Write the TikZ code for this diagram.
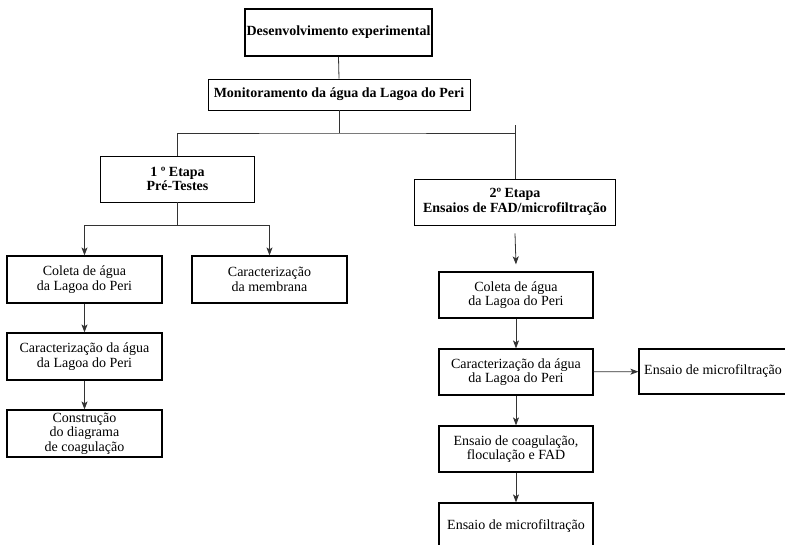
\documentclass[tikz,border=0pt]{standalone}
\usepackage{fontspec}
\setmainfont{Liberation Serif}
\usetikzlibrary{arrows.meta}
\begin{document}
\begin{tikzpicture}[>={Stealth[length=8pt,width=6pt,inset=2pt]},x=1pt,y=-1pt,
	caixa/.style={draw,line width=1.2pt,align=center,inner sep=0pt,minimum width=155pt,minimum height=46pt,font=\fontsize{14}{14.7}\selectfont},
	etapa/.style={caixa,line width=0.8pt,font=\bfseries\fontsize{14}{14.7}\selectfont},
	liga/.style={line width=0.8pt,black!80}]
	\useasboundingbox (0,0) rectangle (785,545);
	\clip (0,0) rectangle (785,545);
	\node[etapa,line width=1.8pt,minimum width=187pt,minimum height=47pt] (dev) at (338.5,32.5) {Desenvolvimento experimental};
	\node[etapa,minimum width=262pt,minimum height=31pt] (mon) at (339,94.5) {Monitoramento da água da Lagoa do Peri};
	\node[etapa,minimum width=154pt] (e1) at (177.5,179) {1 º Etapa\\Pré-Testes};
	\node[etapa,minimum width=201pt] (e2) at (515,202) {2º Etapa\\Ensaios de FAD/microfiltração};
	% 1a etapa
	\node[caixa,minimum height=47pt] (c1) at (84.5,279.5) {Coleta de água\\da Lagoa do Peri};
	\node[caixa,minimum height=47pt] (mem) at (269.5,279.5) {Caracterização\\da membrana};
	\node[caixa,minimum height=47pt] (k1) at (84.5,356.5) {Caracterização da água\\da Lagoa do Peri};
	\node[caixa,minimum height=47pt] (d1) at (84.5,433.5) {Construção\\do diagrama\\de coagulação};
	% 2a etapa
	\node[caixa,minimum width=154pt] (c2) at (516,295) {Coleta de água\\da Lagoa do Peri};
	\node[caixa,minimum width=154pt] (k2) at (516,372) {Caracterização da água\\da Lagoa do Peri};
	\node[caixa,minimum width=148pt,minimum height=45pt] (m1) at (713,371.5) {Ensaio de microfiltração};
	\node[caixa,minimum width=154pt] (f2) at (516,449) {Ensaio de coagulação,\\floculação e FAD};
	\node[caixa,minimum width=154pt] (m2) at (516,526) {Ensaio de microfiltração};
	% ligacoes
	\coordinate (barra) at (339,133);
	\coordinate (marca) at (515,125);
	\coordinate (garfo) at (177.5,225);
	\draw[liga] (dev.south)--(mon.north);
	\draw[liga] (mon.south)--(barra);
	\draw[liga] (e1.north)|-(barra)-|(e2.north);
	\draw[liga] (e2.north)--(marca);
	\draw[liga] (e1.south)--(garfo);
	\draw[liga,->] (garfo)-|(c1.north);
	\draw[liga,->] (garfo)-|(mem.north);
	\draw[liga,->] (c1)--(k1);
	\draw[liga,->] (k1)--(d1);
	\draw[liga,->] ([yshift=-8pt]e2.south)--([yshift=7pt]c2.north);
	\draw[liga,->] (c2)--(k2);
	\draw[liga,->] (k2)--(m1);
	\draw[liga,->] (k2)--(f2);
	\draw[liga,->] (f2)--(m2);
\end{tikzpicture}
\end{document}
